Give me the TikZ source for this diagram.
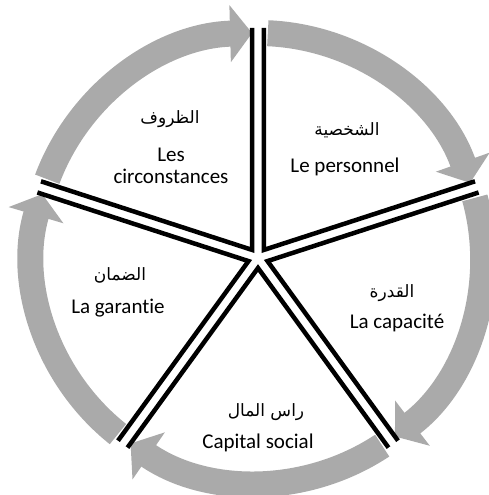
\documentclass[tikz,border=0pt]{standalone}
\usepackage{fontspec}
\setmainfont{Carlito}[Ligatures=NoCommon]
\newfontfamily\arabicfont[Script=Arabic]{DejaVu Sans}
\TeXXeTstate=1
\usetikzlibrary{arrows.meta,calc}
\definecolor{arcgray}{RGB}{170,170,170}

\begin{document}
\begin{tikzpicture}[x=1pt, y=1pt,
    cyclearc/.style={line width=26pt, arcgray, -{Triangle[length=22pt, width=56pt]}},
    wedge/.style={line width=4.5pt, line join=miter},
    frlabel/.style={font=\fontsize{21}{22}\selectfont, align=center, inner sep=0pt},
    arlabel/.style={font=\fontsize{17}{20}\selectfont\arabicfont, inner sep=0pt}]
  \useasboundingbox (-258,-237) rectangle (231,258);
  % arrows round the circle
  \foreach \ang in {162,90,18,-54,-126}
    \draw[cyclearc] (\ang-2.5:225) arc[start angle=\ang-2.5, end angle=\ang-70.5, radius=225];
  % the five sectors
  \foreach \mid in {126,54,-18,-90,-162}
    \draw[wedge] ($(\mid:10)+(\mid+36:222)$) -- (\mid:10) -- ($(\mid:10)+(\mid-36:222)$);
  % labels
  \node[arlabel] (ar1) at (-88,139) {\beginR الظروف\endR};
  \node[frlabel] (fr1) at (-87,92) {Les\\circonstances};
  \node[arlabel] (ar2) at (89,128) {\beginR الشخصية\endR};
  \node[frlabel] (fr2) at (87,91) {Le personnel};
  \node[arlabel] (ar3) at (134,-35) {\beginR القدرة\endR};
  \node[frlabel] (fr3) at (139,-65) {La capacité};
  \node[arlabel] (ar4) at (8,-154) {\beginR راس المال\endR};
  \node[frlabel] (fr4) at (0,-185) {Capital social};
  \node[arlabel] (ar5) at (-138,-17) {\beginR الضمان\endR};
  \node[frlabel] (fr5) at (-140,-50) {La garantie};
\end{tikzpicture}
\end{document}
